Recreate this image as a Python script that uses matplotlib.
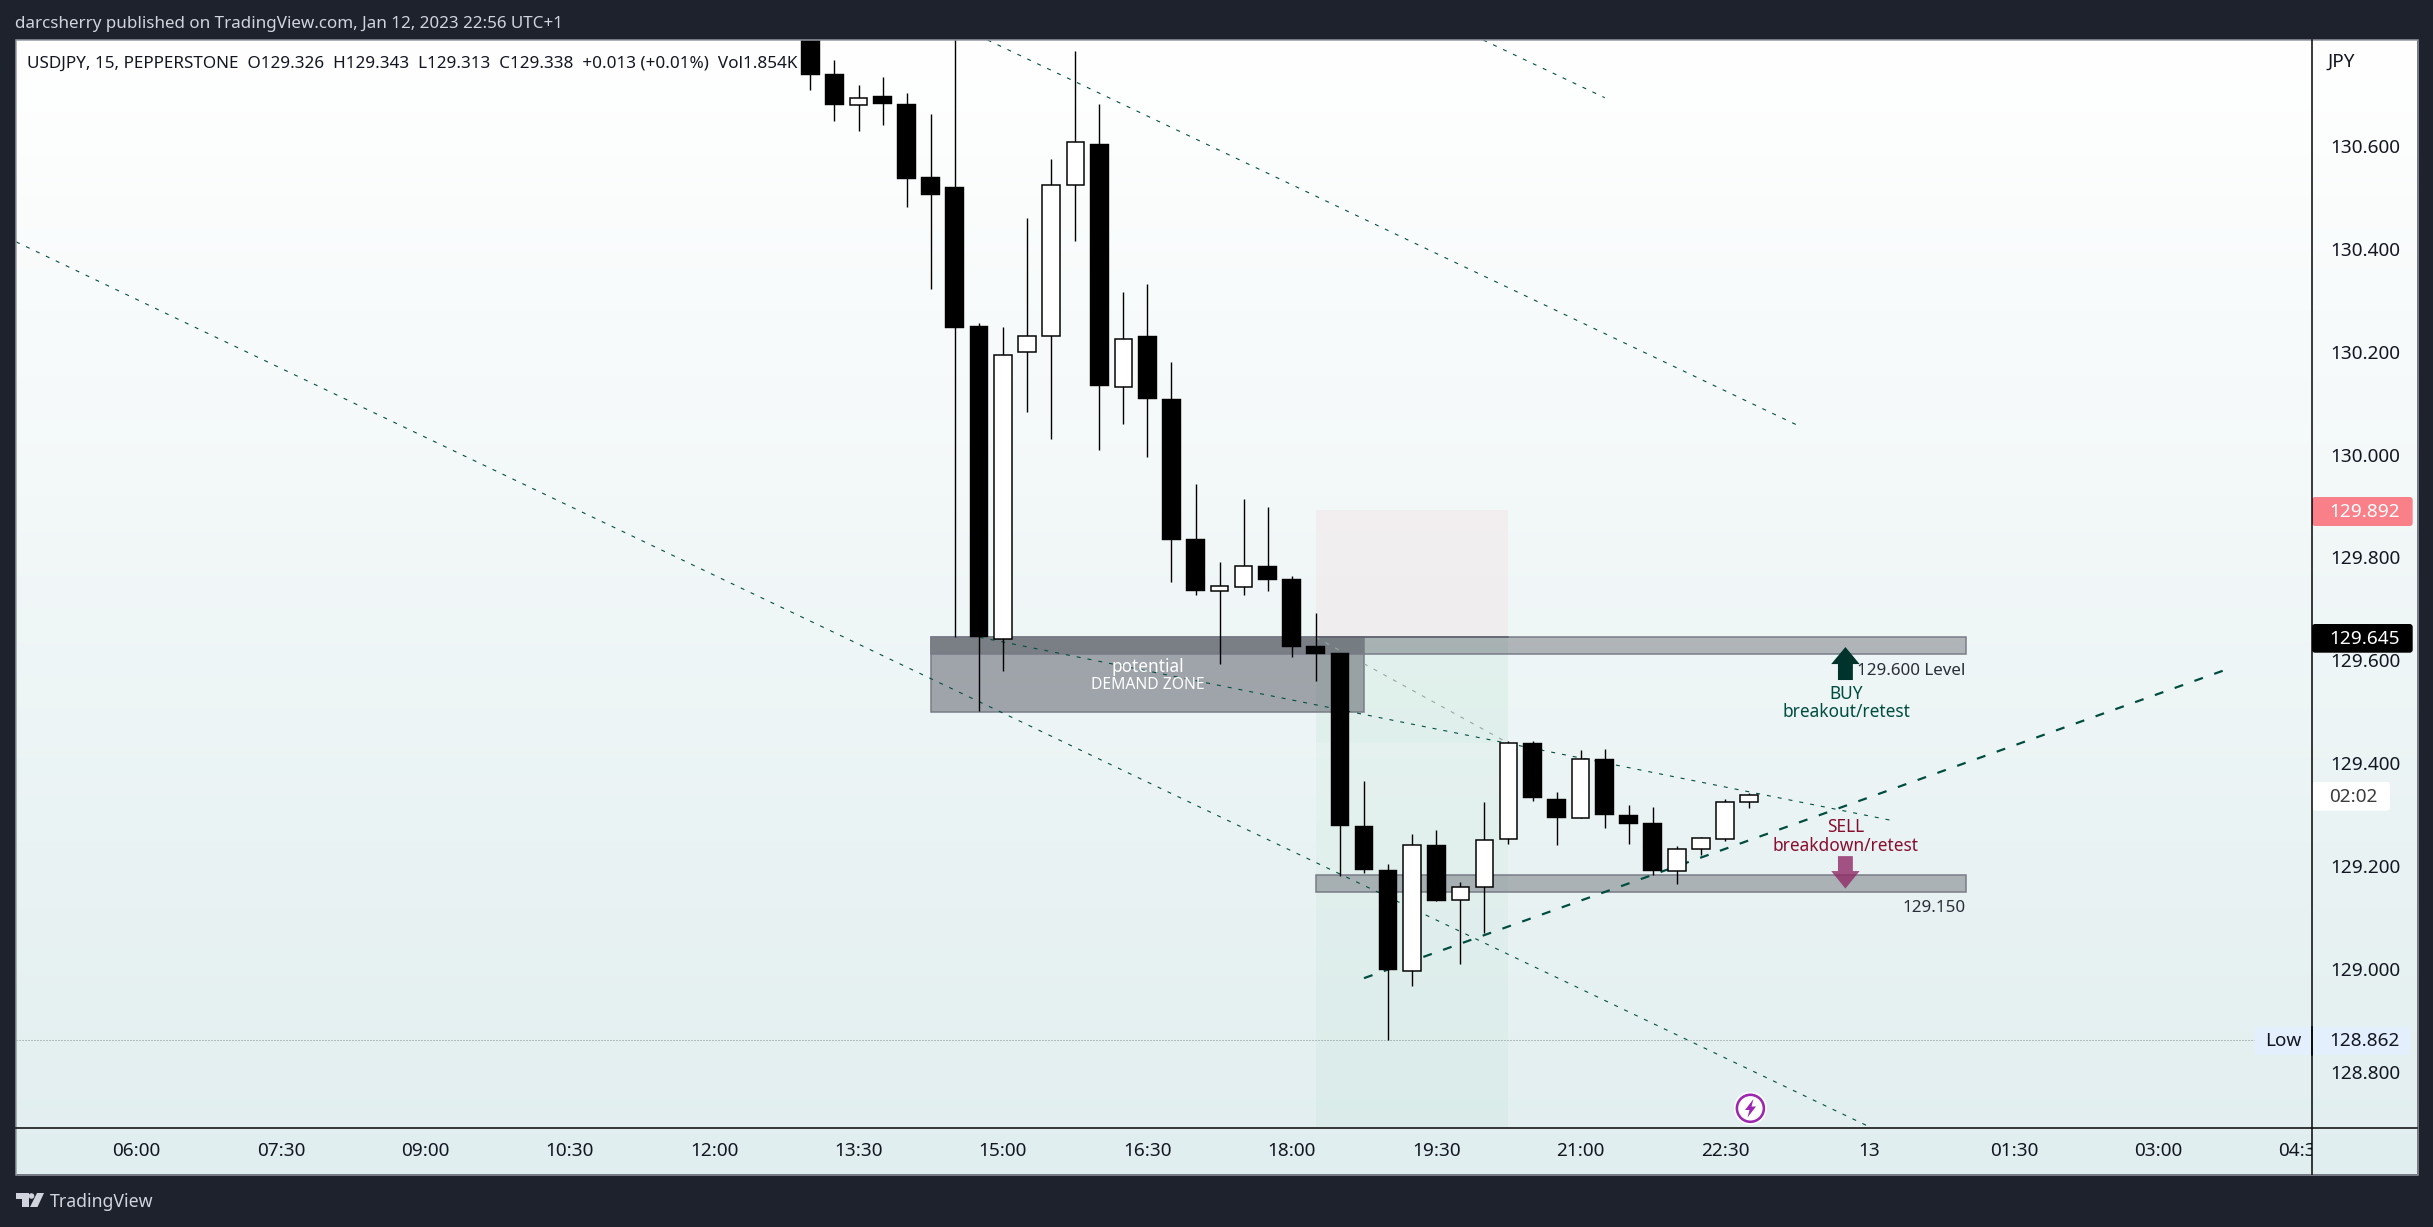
import numpy as np
import matplotlib
matplotlib.use('Agg')
import matplotlib.pyplot as plt
from matplotlib.patches import Rectangle, Polygon, Circle, FancyBboxPatch
from matplotlib.transforms import Bbox

# 15 minute bars, first one is 13:00
opens = [130.85, 130.739, 130.678, 130.696, 130.681, 130.539, 130.519, 130.250, 129.641, 130.200,
         130.231, 130.524, 130.603, 130.132, 130.230, 130.108, 129.836, 129.734, 129.742, 129.784,
         129.758, 129.628, 129.614, 129.279, 129.193, 128.996, 129.242, 129.134, 129.161, 129.253,
         129.440, 129.330, 129.295, 129.409, 129.300, 129.284, 129.192, 129.233, 129.253, 129.326]
highs = [130.87, 130.766, 130.717, 130.733, 130.702, 130.661, 130.90, 130.255, 130.247, 130.459,
         130.574, 130.784, 130.681, 130.315, 130.331, 130.180, 129.943, 129.792, 129.913, 129.898,
         129.764, 129.692, 129.615, 129.365, 129.205, 129.263, 129.271, 129.170, 129.325, 129.443,
         129.443, 129.344, 129.426, 129.428, 129.319, 129.315, 129.239, 129.257, 129.330, 129.343]
lows = [130.707, 130.648, 130.628, 130.640, 130.480, 130.321, 129.645, 129.501, 129.580, 130.082,
        130.031, 130.415, 130.008, 130.059, 129.995, 129.753, 129.727, 129.594, 129.727, 129.735,
        129.607, 129.560, 129.181, 129.188, 128.862, 128.967, 129.133, 129.011, 129.071, 129.244,
        129.328, 129.242, 129.294, 129.275, 129.244, 129.184, 129.166, 129.222, 129.250, 129.313]
closes = [130.737, 130.678, 130.693, 130.681, 130.535, 130.504, 130.246, 129.646, 130.194, 130.231,
          130.523, 130.606, 130.133, 130.225, 130.108, 129.834, 129.735, 129.744, 129.784, 129.757,
          129.626, 129.613, 129.279, 129.193, 128.999, 129.241, 129.133, 129.160, 129.251, 129.439,
          129.333, 129.294, 129.408, 129.300, 129.283, 129.192, 129.233, 129.255, 129.325, 129.338]

time_ticks = [-28, -22, -16, -10, -4, 2, 8, 14, 20, 26, 32, 38, 44, 50, 56, 62]
time_labels = ['06:00', '07:30', '09:00', '10:30', '12:00', '13:30', '15:00', '16:30', '18:00',
               '19:30', '21:00', '22:30', '13', '01:30', '03:00', '04:30']
price_ticks = [128.8, 129.0, 129.2, 129.4, 129.6, 129.8, 130.0, 130.2, 130.4, 130.6]

low_price = 128.862
zone_top, zone_bottom = 129.645, 129.50
level_top, level_bottom = 129.645, 129.613
support_top, support_bottom = 129.183, 129.151
stop_price = 129.892

# trendlines as (bar, price) end points
falling_1 = ([-33, 44.1], [130.413, 128.692])
falling_2 = ([7.36, 41.0], [130.805, 130.057])
falling_3 = ([27.95, 33.0], [130.805, 130.693])
falling_4 = ([7.03, 44.85], [129.645, 129.290])
rising = ([23.0, 58.68], [128.983, 129.58])
target_line = ([21.0, 28.9], [129.645, 129.442])

W, H = 2433, 1227
LEFT, TOP, RIGHT, BOTTOM = 16, 40, 2312, 1128
FONT = 'Noto Sans'
DARK = '#1e222d'
GREEN = '#004d40'
INK = '#131722'

plt.rcParams['font.family'] = FONT
plt.rcParams['lines.scale_dashes'] = False


def px(n):
    return n * 0.72


fig = plt.figure(figsize=(W / 100, H / 100), dpi=100, facecolor=DARK)

# gradient panel
bg = fig.add_axes([16 / W, 1 - 1174 / H, (2417 - 16) / W, (1174 - 40) / H], zorder=0)
grad = np.linspace(0, 1, 256)[:, None, None]
top_c = np.array([1.0, 1.0, 1.0])
bot_c = np.array([0xe1, 0xee, 0xef]) / 255
bg.imshow(top_c + grad * (bot_c - top_c), aspect='auto', extent=[0, 1, 0, 1])
bg.axis('off')

ax = fig.add_axes([LEFT / W, 1 - BOTTOM / H, (RIGHT - LEFT) / W, (BOTTOM - TOP) / H], zorder=1)
ax.patch.set_alpha(0)
ax.set_xlim((LEFT - 810.4) / 24.07, (RIGHT - 810.4) / 24.07)
ax.set_ylim(128.692, 130.805)
for s in ['left', 'top', 'right', 'bottom']:
    ax.spines[s].set_visible(False)

ax.yaxis.tick_right()
ax.set_yticks(price_ticks, [f'{p:.3f}' for p in price_ticks])
ax.set_xticks(time_ticks, time_labels)
ax.tick_params(axis='y', length=0, pad=px(18), labelsize=px(19), labelcolor=INK)
ax.tick_params(axis='x', length=0, pad=px(13.5), labelsize=px(19), labelcolor=INK)
for lab in ax.get_xticklabels():
    lab.set_clip_box(Bbox([[0, 0], [RIGHT, H]]))
    lab.set_clip_on(True)

# position tool
ax.add_patch(Rectangle((21, zone_top), 8, stop_price - zone_top, fc='#f7525f', alpha=0.05, lw=0, zorder=1))
ax.add_patch(Rectangle((21, 129.439), 8, zone_top - 129.439, fc='#00963c', alpha=0.05, lw=0, zorder=1))
ax.add_patch(Rectangle((21, 128.692), 8, 129.439 - 128.692, fc='#00963c', alpha=0.03, lw=0, zorder=1))
ax.plot([21, 29], [zone_top, zone_top], color='#5d606b', lw=px(1.5), zorder=1.5)

# zones
ax.add_patch(Rectangle((5, zone_bottom), 18, zone_top - zone_bottom, fc='#51555f', alpha=0.5, lw=0, zorder=1.2))
ax.add_patch(Rectangle((5, zone_bottom), 18, zone_top - zone_bottom, fc='none', ec='#787b86', lw=px(1.5), zorder=1.3))
ax.add_patch(Rectangle((5, level_bottom), 43, level_top - level_bottom, fc='#30323c', alpha=0.33, lw=0, zorder=1.2))
ax.add_patch(Rectangle((5, level_bottom), 43, level_top - level_bottom, fc='none', ec='#787b86', lw=px(1.5), zorder=1.3))
ax.add_patch(Rectangle((21, support_bottom), 27, support_top - support_bottom, fc='#30323c', alpha=0.33, lw=0, zorder=1.2))
ax.add_patch(Rectangle((21, support_bottom), 27, support_top - support_bottom, fc='none', ec='#787b86', lw=px(1.5), zorder=1.3))

# trendlines
thin = (0, (px(4), px(7)))
for line in [falling_1, falling_2, falling_3, falling_4]:
    ax.plot(line[0], line[1], color=GREEN, lw=px(1.1), ls=thin, zorder=2)
ax.plot(target_line[0], target_line[1], color='#9aa5a5', lw=px(1.1), ls=thin, zorder=2)
ax.plot(rising[0], rising[1], color=GREEN, lw=px(2.2), ls=(0, (px(9), px(12))), zorder=2.1)
ax.plot([ax.get_xlim()[0], 2254.6 / 24.07 - 810.4 / 24.07], [low_price, low_price], color='#7f8c8c', lw=px(1),
        ls=(0, (px(1), px(2))), zorder=1.6)

# candles
x = np.arange(len(opens))
o, h, l, c = map(np.array, (opens, highs, lows, closes))
up = c >= o
ax.vlines(x, l, h, color='black', lw=px(1.4), zorder=3)
ax.bar(x[up], (c - o)[up], bottom=o[up], width=0.72, color='white', edgecolor='black', linewidth=px(1.5), zorder=3.1)
ax.bar(x[~up], (o - c)[~up], bottom=c[~up], width=0.78, color='black', edgecolor='black', linewidth=0.3, zorder=3.1)

# arrows
ax.add_patch(Polygon([(43, 129.626), (43.59, 129.593), (43.31, 129.593), (43.31, 129.562),
                      (42.69, 129.562), (42.69, 129.593), (42.41, 129.593)], fc='#00332b', lw=0, zorder=4))
ax.add_patch(Polygon([(43, 129.157), (43.59, 129.191), (43.31, 129.191), (43.31, 129.220),
                      (42.69, 129.220), (42.69, 129.191), (42.41, 129.191)], fc='#8f2a66', alpha=0.8, lw=0, zorder=4))

# labels on the chart
ax.text(48.0, 129.580, '129.600 Level', ha='right', va='center', fontsize=px(17), color='#2a2e39', zorder=5)
ax.text(48.0, 129.119, '129.150', ha='right', va='center', fontsize=px(17), color='#2a2e39', zorder=5)
ax.text(43.03, 129.534, 'BUY', ha='center', va='center', fontsize=px(17.3), color=GREEN, zorder=5)
ax.text(43.03, 129.499, 'breakout/retest', ha='center', va='center', fontsize=px(17.3), color=GREEN, zorder=5)
ax.text(43.0, 129.276, 'SELL', ha='center', va='center', fontsize=px(17.3), color='#880e2f', zorder=5)
ax.text(43.0, 129.240, 'breakdown/retest', ha='center', va='center', fontsize=px(17.3), color='#880e2f', zorder=5)
ax.text(14.03, 129.587, 'potential', ha='center', va='center', fontsize=px(17.2), color='white', zorder=5,
        fontweight='medium')
ax.text(14.03, 129.553, 'DEMAND ZONE', ha='center', va='center', fontsize=px(15.7), color='white', zorder=5)

# chrome drawn in pixels
ov = fig.add_axes([0, 0, 1, 1], zorder=3)
ov.set_xlim(0, W)
ov.set_ylim(H, 0)
ov.axis('off')
ov.patch.set_alpha(0)

ov.add_patch(Rectangle((15.5, 39.5), 2402, 1135, fc='none', ec='#9598a1', lw=px(1.5)))
ov.plot([LEFT, 2417], [BOTTOM, BOTTOM], color='black', lw=px(1.5))
ov.plot([RIGHT, RIGHT], [TOP, 1174], color='black', lw=px(1.5))

ov.text(15, 24, 'darcsherry published on TradingView.com, Jan 12, 2023 22:56 UTC+1', ha='left', va='center',
        fontsize=px(17), color='#d1d4dc')
ov.text(27, 64, 'USDJPY, 15, PEPPERSTONE  O129.326  H129.343  L129.313  C129.338  +0.013 (+0.01%)  Vol1.854K',
        ha='left', va='center', fontsize=px(17.1), color=INK)
ov.text(2327, 61.5, 'JPY', ha='left', va='center', fontsize=px(19), color=INK)
ov.text(50, 1202, 'TradingView', ha='left', va='center', fontsize=px(17.7), color='#d1d4dc')


def badge(x0, x1, y0, y1, color):
    ov.add_patch(FancyBboxPatch((x0, y0), x1 - x0, y1 - y0, boxstyle='round,pad=0,rounding_size=3',
                                fc=color, ec='none'))


badge(RIGHT, 2412.7, 497, 526, '#f98088')
ov.text(2365, 512, '129.892', ha='center', va='center', fontsize=px(19), color='white', fontweight='medium')
badge(RIGHT, 2412.7, 624, 652.7, 'black')
ov.text(2365, 638.5, '129.645', ha='center', va='center', fontsize=px(19), color='white', fontweight='medium')
badge(RIGHT, 2390, 782, 810.7, 'white')
ov.text(2353, 797, '02:02', ha='center', va='center', fontsize=px(19), color='#3c3c3c')
badge(2254.6, 2410, 1027, 1055, '#e3effd')
ov.plot([RIGHT, RIGHT], [1027, 1055], color='black', lw=px(1.5))
ov.text(2282.8, 1041.5, 'Low', ha='center', va='center', fontsize=px(19), color=INK)
ov.text(2365, 1041.5, '128.862', ha='center', va='center', fontsize=px(19), color=INK)

# bolt marker
ov.add_patch(Circle((1750.4, 1108.3), 16.5, fc='white', ec='none'))
ov.add_patch(Circle((1750.4, 1108.3), 13.5, fc='none', ec='#9c27b0', lw=px(2.6)))
ov.add_patch(Polygon([(1753.5, 1099), (1745, 1110), (1749.5, 1110), (1747.5, 1117.5),
                      (1756, 1106.5), (1751.5, 1106.5)], fc='#9c27b0', lw=0))

# logo
ov.add_patch(Polygon([(15.6, 1193), (28.5, 1193), (28.5, 1207), (21.5, 1207), (21.5, 1198.5), (15.6, 1198.5)],
                     fc='#d1d4dc', lw=0))
ov.add_patch(Circle((31.5, 1196), 2.8, fc='#d1d4dc', lw=0))
ov.add_patch(Polygon([(37, 1193), (44, 1193), (37.5, 1207), (30, 1207)], fc='#d1d4dc', lw=0))

fig.savefig('out.png', dpi=100, facecolor=DARK)
plt.close(fig)
